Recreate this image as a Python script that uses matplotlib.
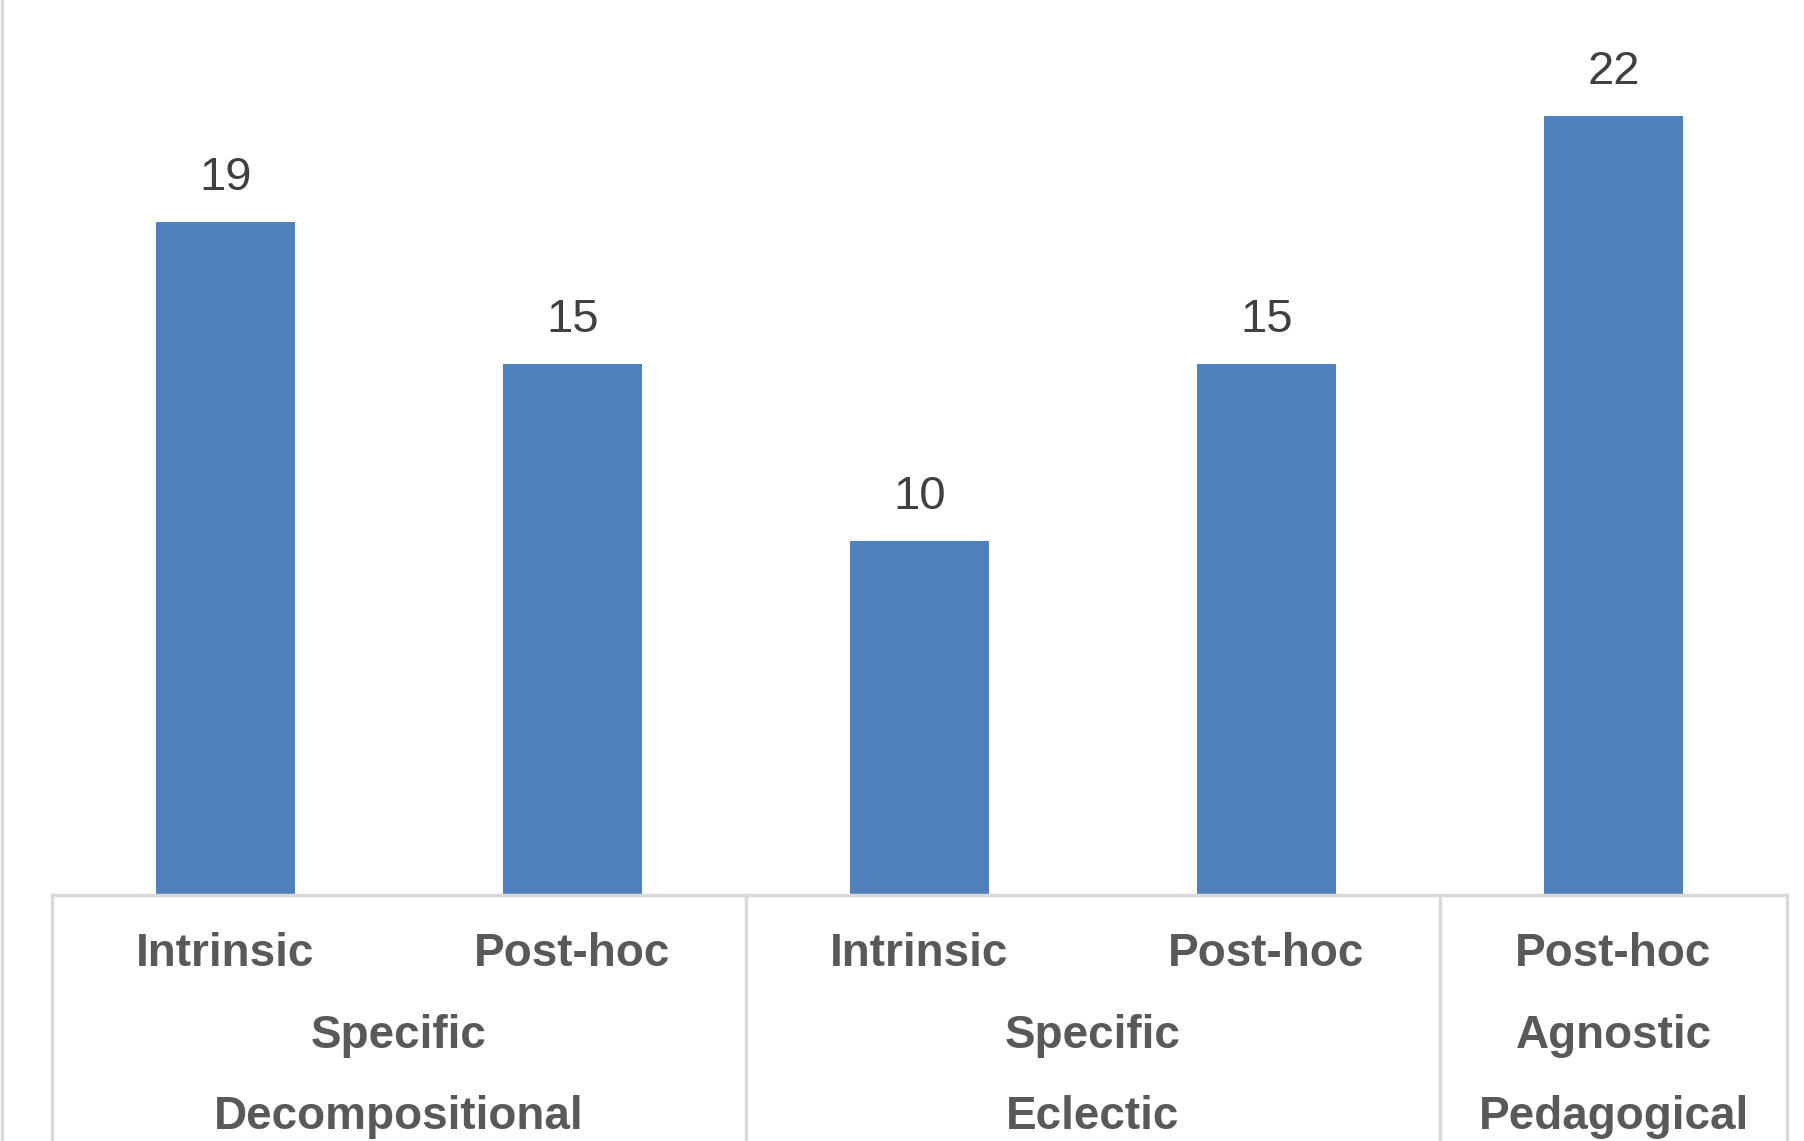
import matplotlib
matplotlib.use("Agg")
import matplotlib.pyplot as plt
from matplotlib.lines import Line2D

# Dados do grafico
metodos = ["Intrinsic", "Post-hoc", "Intrinsic", "Post-hoc", "Post-hoc"]
quantidades = [19, 15, 10, 15, 22]
escopos = ["Specific", "Specific", "Agnostic"]
familias = ["Decompositional", "Eclectic", "Pedagogical"]
tamanho_grupos = [2, 2, 1]

plt.rcParams['font.family'] = ['Liberation Sans', 'DejaVu Sans']

cor_barra = '#4F81BD'
cor_grade = '#D9D9D9'
cor_rotulo = '#595959'
cor_valor = '#404040'

fig = plt.figure(figsize=(18.04, 11.41), dpi=100)
ax = fig.add_axes([52 / 1804, (1141 - 895) / 1141, (1787 - 52) / 1804, 895 / 1141])

x = list(range(len(quantidades)))
barras = ax.bar(x, quantidades, width=0.4, color=cor_barra, zorder=2)

# Valores acima das barras
for xi, v in zip(x, quantidades):
    ax.annotate(str(v), (xi, v), xytext=(0, 16), textcoords='offset points',
                ha='center', va='bottom', fontsize=34, color=cor_valor)

ax.set_xlim(-0.5, len(quantidades) - 0.5)
ax.set_ylim(0, 25.28)
ax.set_xticks([])
ax.set_yticks([])
for lado in ['top', 'right', 'left']:
    ax.spines[lado].set_visible(False)
ax.spines['bottom'].set_color(cor_grade)
ax.spines['bottom'].set_linewidth(2.5)

trans = ax.get_xaxis_transform()
fundo = -0.3

# Rotulos do eixo em niveis
for xi, m in zip(x, metodos):
    ax.text(xi, -0.0655, m, transform=trans, ha='center', va='center',
            fontsize=33, fontweight='bold', color=cor_rotulo)

inicio = 0
limites = [-0.5]
for esc, fam, n in zip(escopos, familias, tamanho_grupos):
    centro = inicio + (n - 1) / 2
    ax.text(centro, -0.158, esc, transform=trans, ha='center', va='center',
            fontsize=33, fontweight='bold', color=cor_rotulo)
    ax.text(centro, -0.248, fam, transform=trans, ha='center', va='center',
            fontsize=33, fontweight='bold', color=cor_rotulo)
    inicio += n
    limites.append(inicio - 0.5)

for b in limites:
    ax.add_line(Line2D([b, b], [0, fundo], transform=trans, color=cor_grade,
                       linewidth=2.5, clip_on=False))

# Borda cinza a esquerda
fig.add_artist(Line2D([1.5 / 1804, 1.5 / 1804], [0, 1], transform=fig.transFigure,
                      color=cor_grade, linewidth=2.5))

fig.savefig("out.png", dpi=100, facecolor='white')
